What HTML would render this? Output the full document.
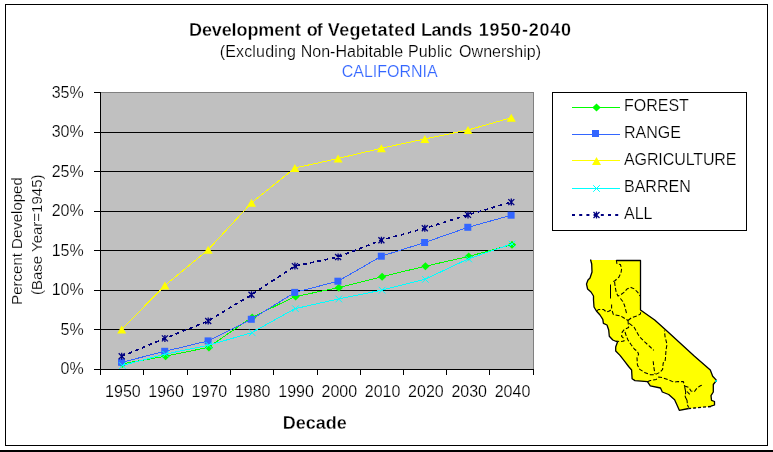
<!DOCTYPE html><html><head><meta charset="utf-8"><title>Development of Vegetated Lands 1950-2040</title>
<style>html,body{margin:0;padding:0;background:#fff}svg{display:block}text{font-family:"Liberation Sans",Arial,sans-serif;fill:#000;stroke:#fff;stroke-width:.2px}text[font-weight=bold]{stroke-width:.3px}</style></head><body>
<svg width="773" height="452" viewBox="0 0 773 452">
<rect width="773" height="452" fill="#fff"/>
<rect x="0" y="450" width="773" height="2" fill="#000"/>
<rect x="5.5" y="4.5" width="762" height="441" fill="none" stroke="#000" shape-rendering="crispEdges"/>
<rect x="100" y="92" width="434" height="277" fill="#C0C0C0"/>
<g shape-rendering="crispEdges" stroke="#808080" fill="none"><path d="M100 92.5H533.5V369"/></g>
<g shape-rendering="crispEdges" stroke="#000" stroke-width="1" fill="none">
<path d="M94 369.5H534"/>
<path d="M94 329.5H533"/>
<path d="M94 290.5H533"/>
<path d="M94 250.5H533"/>
<path d="M94 211.5H533"/>
<path d="M94 171.5H533"/>
<path d="M94 132.5H533"/>
<path d="M94 92.5H100"/>
<path d="M100.5 92V375"/>
<path d="M143.5 369V375"/>
<path d="M187.5 369V375"/>
<path d="M230.5 369V375"/>
<path d="M273.5 369V375"/>
<path d="M317.5 369V375"/>
<path d="M360.5 369V375"/>
<path d="M403.5 369V375"/>
<path d="M446.5 369V375"/>
<path d="M489.5 369V375"/>
<path d="M533.5 369V375"/>
</g>
<g id="series">
<polyline fill="none" stroke="#00FF00" stroke-width="1" shape-rendering="crispEdges"  points="121.7,363.9 164.9,356.3 208.2,347.4 251.5,317.6 294.9,296.6 338.1,287.8 381.4,276.8 424.8,266.3 468.0,256.6 511.3,244.7"/>
<path fill="#00FF00" d="M122.4 359.9l4.2 4l-4.2 4l-4.2 -4z"/>
<path fill="#00FF00" d="M165.6 352.3l4.2 4l-4.2 4l-4.2 -4z"/>
<path fill="#00FF00" d="M208.9 343.4l4.2 4l-4.2 4l-4.2 -4z"/>
<path fill="#00FF00" d="M252.2 313.6l4.2 4l-4.2 4l-4.2 -4z"/>
<path fill="#00FF00" d="M295.6 292.6l4.2 4l-4.2 4l-4.2 -4z"/>
<path fill="#00FF00" d="M338.8 283.8l4.2 4l-4.2 4l-4.2 -4z"/>
<path fill="#00FF00" d="M382.1 272.8l4.2 4l-4.2 4l-4.2 -4z"/>
<path fill="#00FF00" d="M425.4 262.3l4.2 4l-4.2 4l-4.2 -4z"/>
<path fill="#00FF00" d="M468.7 252.6l4.2 4l-4.2 4l-4.2 -4z"/>
<path fill="#00FF00" d="M512.0 240.7l4.2 4l-4.2 4l-4.2 -4z"/>
<polyline fill="none" stroke="#3366FF" stroke-width="1" shape-rendering="crispEdges"  points="121.7,362.3 164.9,351.3 208.2,340.9 251.5,319.3 294.9,292.4 338.1,281.2 381.4,256.2 424.8,242.5 468.0,227.3 511.3,215.2"/>
<rect fill="#3366FF" x="118.0" y="358.8" width="7" height="7"/>
<rect fill="#3366FF" x="161.2" y="347.8" width="7" height="7"/>
<rect fill="#3366FF" x="204.6" y="337.4" width="7" height="7"/>
<rect fill="#3366FF" x="247.8" y="315.8" width="7" height="7"/>
<rect fill="#3366FF" x="291.2" y="288.9" width="7" height="7"/>
<rect fill="#3366FF" x="334.4" y="277.7" width="7" height="7"/>
<rect fill="#3366FF" x="377.8" y="252.7" width="7" height="7"/>
<rect fill="#3366FF" x="421.1" y="239.0" width="7" height="7"/>
<rect fill="#3366FF" x="464.3" y="223.8" width="7" height="7"/>
<rect fill="#3366FF" x="507.6" y="211.7" width="7" height="7"/>
<polyline fill="none" stroke="#FFFF00" stroke-width="1" shape-rendering="crispEdges"  points="121.7,329.4 164.9,285.5 208.2,249.7 251.5,202.8 294.9,168.0 338.1,158.5 381.4,148.2 424.8,139.0 468.0,130.0 511.3,117.7"/>
<path fill="#FFFF00" d="M121.7 325.4l4.5 8h-9z"/>
<path fill="#FFFF00" d="M164.9 281.5l4.5 8h-9z"/>
<path fill="#FFFF00" d="M208.2 245.7l4.5 8h-9z"/>
<path fill="#FFFF00" d="M251.5 198.8l4.5 8h-9z"/>
<path fill="#FFFF00" d="M294.9 164.0l4.5 8h-9z"/>
<path fill="#FFFF00" d="M338.1 154.5l4.5 8h-9z"/>
<path fill="#FFFF00" d="M381.4 144.2l4.5 8h-9z"/>
<path fill="#FFFF00" d="M424.8 135.0l4.5 8h-9z"/>
<path fill="#FFFF00" d="M468.0 126.0l4.5 8h-9z"/>
<path fill="#FFFF00" d="M511.3 113.7l4.5 8h-9z"/>
<polyline fill="none" stroke="#00FFFF" stroke-width="1" shape-rendering="crispEdges"  points="121.7,365.6 164.9,354.2 208.2,345.3 251.5,332.8 294.9,308.7 338.1,299.0 381.4,290.2 424.8,279.4 468.0,259.0 511.3,244.0"/>
<path stroke="#00FFFF" stroke-width="1" fill="none" d="M119.1 362.3l6.6 6.6m0 -6.6l-6.6 6.6"/>
<path stroke="#00FFFF" stroke-width="1" fill="none" d="M162.3 350.9l6.6 6.6m0 -6.6l-6.6 6.6"/>
<path stroke="#00FFFF" stroke-width="1" fill="none" d="M205.6 342.0l6.6 6.6m0 -6.6l-6.6 6.6"/>
<path stroke="#00FFFF" stroke-width="1" fill="none" d="M248.9 329.5l6.6 6.6m0 -6.6l-6.6 6.6"/>
<path stroke="#00FFFF" stroke-width="1" fill="none" d="M292.2 305.4l6.6 6.6m0 -6.6l-6.6 6.6"/>
<path stroke="#00FFFF" stroke-width="1" fill="none" d="M335.5 295.7l6.6 6.6m0 -6.6l-6.6 6.6"/>
<path stroke="#00FFFF" stroke-width="1" fill="none" d="M378.8 286.9l6.6 6.6m0 -6.6l-6.6 6.6"/>
<path stroke="#00FFFF" stroke-width="1" fill="none" d="M422.1 276.1l6.6 6.6m0 -6.6l-6.6 6.6"/>
<path stroke="#00FFFF" stroke-width="1" fill="none" d="M465.4 255.7l6.6 6.6m0 -6.6l-6.6 6.6"/>
<path stroke="#00FFFF" stroke-width="1" fill="none" d="M508.7 240.7l6.6 6.6m0 -6.6l-6.6 6.6"/>
<polyline fill="none" stroke="#000080" stroke-width="1.7" shape-rendering="crispEdges" stroke-dasharray="3.8 3.5" points="121.7,356.3 164.9,338.4 208.2,321.0 251.5,294.7 294.9,266.1 338.1,257.0 381.4,240.2 424.8,228.3 468.0,214.9 511.3,202.1"/>
<path stroke="#000080" stroke-width="1.3" fill="none" d="M118.7 353.3l6 6m0 -6l-6 6m3 -6.5v7"/>
<path stroke="#000080" stroke-width="1.3" fill="none" d="M161.9 335.4l6 6m0 -6l-6 6m3 -6.5v7"/>
<path stroke="#000080" stroke-width="1.3" fill="none" d="M205.2 318.0l6 6m0 -6l-6 6m3 -6.5v7"/>
<path stroke="#000080" stroke-width="1.3" fill="none" d="M248.5 291.7l6 6m0 -6l-6 6m3 -6.5v7"/>
<path stroke="#000080" stroke-width="1.3" fill="none" d="M291.9 263.1l6 6m0 -6l-6 6m3 -6.5v7"/>
<path stroke="#000080" stroke-width="1.3" fill="none" d="M335.1 254.0l6 6m0 -6l-6 6m3 -6.5v7"/>
<path stroke="#000080" stroke-width="1.3" fill="none" d="M378.4 237.2l6 6m0 -6l-6 6m3 -6.5v7"/>
<path stroke="#000080" stroke-width="1.3" fill="none" d="M421.8 225.3l6 6m0 -6l-6 6m3 -6.5v7"/>
<path stroke="#000080" stroke-width="1.3" fill="none" d="M465.0 211.9l6 6m0 -6l-6 6m3 -6.5v7"/>
<path stroke="#000080" stroke-width="1.3" fill="none" d="M508.3 199.1l6 6m0 -6l-6 6m3 -6.5v7"/>
</g>
<text x="83.7" y="374.0" font-size="16" text-anchor="end">0%</text>
<text x="83.7" y="335.0" font-size="16" text-anchor="end">5%</text>
<text x="83.7" y="295.0" font-size="16" text-anchor="end">10%</text>
<text x="83.7" y="256.0" font-size="16" text-anchor="end">15%</text>
<text x="83.7" y="216.0" font-size="16" text-anchor="end">20%</text>
<text x="83.7" y="177.0" font-size="16" text-anchor="end">25%</text>
<text x="83.7" y="137.0" font-size="16" text-anchor="end">30%</text>
<text x="83.7" y="98.0" font-size="16" text-anchor="end">35%</text>
<text x="122.9" y="396.5" font-size="16" text-anchor="middle">1950</text>
<text x="166.1" y="396.5" font-size="16" text-anchor="middle">1960</text>
<text x="209.4" y="396.5" font-size="16" text-anchor="middle">1970</text>
<text x="252.7" y="396.5" font-size="16" text-anchor="middle">1980</text>
<text x="296.1" y="396.5" font-size="16" text-anchor="middle">1990</text>
<text x="339.3" y="396.5" font-size="16" text-anchor="middle">2000</text>
<text x="382.6" y="396.5" font-size="16" text-anchor="middle">2010</text>
<text x="425.9" y="396.5" font-size="16" text-anchor="middle">2020</text>
<text x="469.2" y="396.5" font-size="16" text-anchor="middle">2030</text>
<text x="512.5" y="396.5" font-size="16" text-anchor="middle">2040</text>
<text y="35.8" font-size="18" font-weight="bold"><tspan x="189" textLength="112">Development</tspan> <tspan x="306.8" textLength="15.9">of</tspan> <tspan x="327.8" textLength="87.8">Vegetated</tspan> <tspan x="421" textLength="51.2">Lands</tspan> <tspan x="478.7" textLength="92.4">1950-2040</tspan></text>
<text y="56.7" font-size="16"><tspan x="219.7" textLength="76.2">(Excluding</tspan> <tspan x="300.7" textLength="102.5">Non-Habitable</tspan> <tspan x="408" textLength="44.3">Public</tspan> <tspan x="459.1" textLength="82">Ownership)</tspan></text>
<text x="389.7" y="76.6" font-size="16" text-anchor="middle" style="fill:#3366FF">CALIFORNIA</text>
<text x="314.8" y="429.3" font-size="18" font-weight="bold" text-anchor="middle">Decade</text>
<text transform="translate(22.1 241) rotate(-90)" font-size="15" text-anchor="middle">Percent Developed</text>
<text transform="translate(42.3 234.8) rotate(-90)" font-size="15" text-anchor="middle">(Base Year=1945)</text>
<rect x="552.5" y="92.5" width="194" height="138" fill="#fff" stroke="#000" shape-rendering="crispEdges"/>
<path stroke="#00FF00" stroke-width="1" d="M572 107.5H620" fill="none" shape-rendering="crispEdges"/>
<path fill="#00FF00" d="M596.5 103.5l4.2 4l-4.2 4l-4.2 -4z"/>
<text x="624" y="111.0" font-size="16">FOREST</text>
<path stroke="#3366FF" stroke-width="1" d="M572 134.5H620" fill="none" shape-rendering="crispEdges"/>
<rect fill="#3366FF" x="592.0" y="130.0" width="7" height="7"/>
<text x="624" y="138.0" font-size="16">RANGE</text>
<path stroke="#FFFF00" stroke-width="1" d="M572 160.5H620" fill="none" shape-rendering="crispEdges"/>
<path fill="#FFFF00" d="M596.5 157.0l4.5 8h-9z"/>
<text x="624" y="165.0" font-size="16" textLength="112.5">AGRICULTURE</text>
<path stroke="#00FFFF" stroke-width="1" d="M572 188.5H620" fill="none" shape-rendering="crispEdges"/>
<path stroke="#00FFFF" stroke-width="1" fill="none" d="M593.2 185.2l6.6 6.6m0 -6.6l-6.6 6.6"/>
<text x="624" y="192.0" font-size="16">BARREN</text>
<path stroke="#000080" stroke-width="2" stroke-dasharray="3 4.2" d="M572 215.0H620" fill="none"/>
<path stroke="#000080" stroke-width="1.3" fill="none" d="M593.5 212.0l6 6m0 -6l-6 6m3 -6.5v7"/>
<text x="624" y="219.0" font-size="16">ALL</text>
<g id="map" stroke-linejoin="round">
<path fill="#FFFF00" stroke="none" d="M590.5 260 L641 260 L641 310 L654.9 320 L666.6 330.5 L694.7 356.3 L710.5 370 L713 376.5 L717 380.5 L713.5 384.5 L713.5 392 L711.5 395.6 L711.5 400.3 L714.8 401.5 L714.8 405 L711 406.5 L694.5 408 L688.7 408.7 L679.3 410.5 L677 405 L674.6 399.7 L668.7 394.5 L662.3 392 L660.5 388 L650.3 385.8 L647.4 381.7 L635 380.6 L632.1 378.8 L631.6 370 L628.6 366.5 L624.5 361.2 L620 355.4 L615.7 351 L615.7 347 L617.5 342 L612.8 340 L609.3 336.3 L608.7 330 L607 325 L603.4 323.4 L602.8 319.3 L600 315 L596.4 311 L594 307 L593.5 300 L593.5 296 L591 292 L587.6 289 L586.5 284 L588 280 L590 278 L592 272 L591.7 264 Z"/>
<g fill="none" stroke="#000" stroke-width="1.3">
<!-- outline: north + east + south -->
<path d="M616.3 260.5 H640.5 V310 L654.7 320 L666.4 330.5 L694.5 356.3 L710.3 370 L712.7 376.3 L716.5 380.4 L713.3 384.5 V392 L711 395.6 L711.5 400.3 L714.5 401.5 V405 L711 406.2"/>
<path stroke-dasharray="3 2" d="M711 406.5 L694.5 408 L688.7 408.5"/>
<path d="M688.7 408.5 L679.3 410.3 L677 405 L674.6 399.7 L668.7 394.5 L662.3 392 L660.5 388 L650.3 385.8 L647.4 381.7 L635 380.6 L632.1 378.8 L631.6 370 L628.6 366.5 L624.5 361.2 L620 355.4 L615.7 351 L615.7 347 L617.5 342 L612.8 340 L609.3 336.3 L608.7 330 L607 325 L603.4 323.4 L602.8 319.3 L600 315 L596.4 311 L594 307 L593.5 300 L593.5 296 L591 292 L587.6 289 L586.5 284 L588 280 L590 278 L592 272 L591.7 264 L590.5 259.5"/>
</g>
<g fill="none" stroke="#000" stroke-width="1.05" stroke-dasharray="4 2">
<path d="M616.3 260 L617 264 L620.4 264.5 L621.6 268.6 L621 273 L618.7 277.4 L614.6 281 L611.6 282"/>
<path d="M614.6 282 L615.2 287 L616.3 292.7 L618 296 L620.4 295 L624.5 292 L627 289 L631 287.4 L634.5 289 L638 292.7 L640 296"/>
<path d="M620.4 298.5 L622.8 301.5 L624.5 305.3 L626.3 312.3 L626.9 314.6"/>
<path d="M611.6 304.4 L611.6 309.4 L609.3 311 L606.4 312 L603.4 309.4 L598.8 309.4 L596.4 311"/>
<path d="M612.2 311 L613.4 314.6 L620.4 315.8 L624 318 L628 320.5"/>
<path d="M628 320.5 L631.6 317.6 L637.4 315.8 L640.4 314 L640.9 310"/>
<path d="M628 320.5 L628.6 327.5 L624.5 329.3 L622.2 332.2 L621.6 336.3 L624 338.7 L624 341 L620.4 341.6 L616.3 341"/>
<path d="M629.2 323.4 L634 327 L636.8 332 L639.2 336.3 L645 342.2 L650.3 347 L653.8 350.4"/>
<path d="M625 332 L626.3 336 L628 340 L631 344.5 L634.5 349.2 L637.4 351.3 L638.6 354.2 L637 357.7 L637.4 365 L639.8 369.4 L644.5 372.4 L650.3 374.7 L655 374.7 L659.7 372.4 L662.6 369.4 L663.2 363 L665 361.8 L665.5 357.7 L666 350 L667 344.5 L665 336.3 L664.4 330.5"/>
<path d="M653.2 361.2 L653.8 367 L655 374"/>
<path d="M647.4 381.7 L650.3 380.6 L656.2 379.4 L658.5 377 L662 377.6 L667.7 379.6 L674 382.2 L678 381.6 L683.4 381.6 L684.6 386.3"/>
<path stroke-dasharray="8 1.5" d="M684.6 386.3 L685.7 392 L685.2 396.8 L687 400.3 L687.5 405 L688.7 407.4"/>
<path d="M687 391.5 L689.8 394.5"/>
<path d="M684.6 386 L688.7 387.4 L691 391 L694.5 391.5 L697 388 L700.4 385.7 L703.3 385"/>
</g>
<path fill="none" stroke="#000" stroke-width="1" d="M610.5 284.5 V298.5"/>
<rect x="715" y="380" width="2" height="2" fill="#00CCCC"/>
</g>

</svg></body></html>
